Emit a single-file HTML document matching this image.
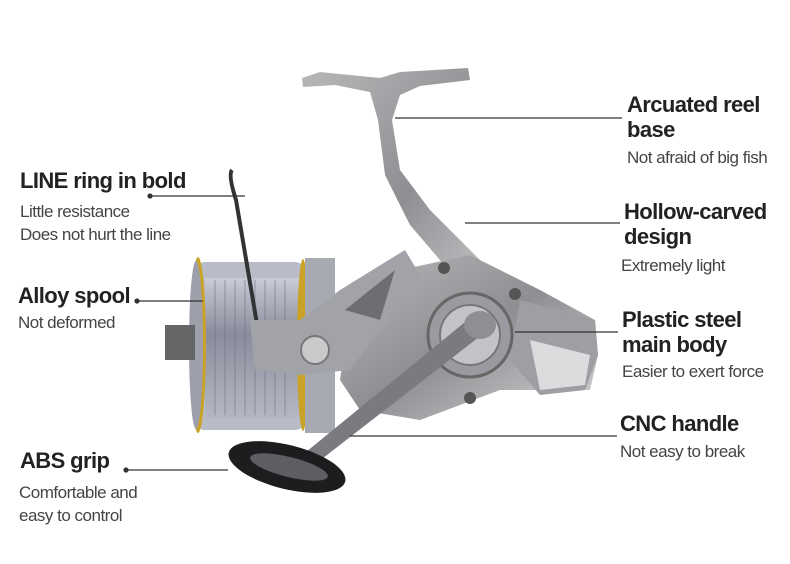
<!DOCTYPE html>
<html><head><meta charset="utf-8"><style>
html,body{margin:0;padding:0;background:#fff;}
#c{position:relative;width:790px;height:564px;overflow:hidden;font-family:"Liberation Sans",sans-serif;}
.t{position:absolute;color:#222;font-weight:bold;font-size:22px;letter-spacing:-0.6px;line-height:25px;white-space:nowrap;}
.d{position:absolute;color:#444;font-size:17px;letter-spacing:-0.5px;line-height:23px;white-space:nowrap;}
svg{position:absolute;left:0;top:0;}
</style></head><body><div id="c">
<svg width="790" height="564" viewBox="0 0 790 564">
<defs>
<linearGradient id="sp" x1="0" y1="0" x2="0" y2="1"><stop offset="0" stop-color="#c9ccd6"/><stop offset="0.4" stop-color="#8a8e9c"/><stop offset="1" stop-color="#b5b8c4"/></linearGradient>
<linearGradient id="bd" x1="0" y1="0" x2="1" y2="1"><stop offset="0" stop-color="#b8b8ba"/><stop offset="0.5" stop-color="#8e8f92"/><stop offset="1" stop-color="#d4d4d6"/></linearGradient>
</defs>
<rect x="195" y="262" width="110" height="168" rx="10" fill="#b9bcc7"/>
<rect x="205" y="278" width="95" height="140" fill="url(#sp)"/>
<g stroke="#6f7382" stroke-width="1" opacity="0.6">
<line x1="215" y1="280" x2="215" y2="415"/><line x1="225" y1="280" x2="225" y2="415"/><line x1="235" y1="280" x2="235" y2="415"/><line x1="245" y1="280" x2="245" y2="415"/><line x1="255" y1="280" x2="255" y2="415"/><line x1="265" y1="280" x2="265" y2="415"/><line x1="275" y1="280" x2="275" y2="415"/><line x1="285" y1="280" x2="285" y2="415"/></g>
<ellipse cx="198" cy="345" rx="8" ry="88" fill="#c9a227"/>
<ellipse cx="196" cy="345" rx="7" ry="84" fill="#9da0aa"/>
<ellipse cx="303" cy="345" rx="6" ry="86" fill="#c9a227"/>
<rect x="305" y="258" width="30" height="175" fill="#a8aab2"/>
<rect x="165" y="325" width="30" height="35" fill="#666"/>
<path d="M232 170 Q228 175 236 200 L258 330" stroke="#333" stroke-width="4" fill="none"/>
<path d="M302 78 L320 72 L380 78 L400 72 L468 68 L470 80 L420 86 L400 95 L392 120 L400 170 L430 210 L500 280 L520 300 L515 310 L470 290 L440 260 L410 225 L385 175 L378 120 L370 92 L335 85 L303 87 Z" fill="url(#bd)"/>
<path d="M400 270 L470 255 L540 290 L595 320 L598 355 L590 390 L500 390 L420 420 L360 410 L340 380 L350 310 Z" fill="url(#bd)"/>
<path d="M520 300 L595 320 L598 355 L585 390 L540 395 L510 360 Z" fill="#9e9fa3"/>
<path d="M530 340 L590 355 L585 385 L540 390 Z" fill="#dcdcde"/>
<path d="M250 320 L300 320 L340 290 L405 250 L420 275 L380 330 L350 370 L300 375 L255 370 Z" fill="#a2a3a8"/>
<path d="M345 310 L395 270 L380 320 Z" fill="#6d6e73"/>
<circle cx="315" cy="350" r="14" fill="#c9c9cc" stroke="#777" stroke-width="2"/>
<circle cx="470" cy="335" r="42" fill="#9a9ba0" stroke="#666" stroke-width="3"/>
<circle cx="470" cy="335" r="30" fill="#c2c3c7" stroke="#777" stroke-width="2"/>
<circle cx="444" cy="268" r="6" fill="#555"/><circle cx="515" cy="294" r="6" fill="#555"/><circle cx="470" cy="398" r="6" fill="#555"/>
<path d="M306 452 L470 318 L488 330 L318 462 Z" fill="#7a7b80"/>
<ellipse cx="480" cy="325" rx="16" ry="14" fill="#8e8f94"/>
<ellipse cx="287" cy="467" rx="60" ry="22" transform="rotate(14 287 467)" fill="#1d1d1f"/>
<ellipse cx="289" cy="467" rx="40" ry="10" transform="rotate(14 289 467)" fill="#5e5e62"/>
<g stroke="#333" stroke-width="1.2" fill="#333">
<line x1="395" y1="118" x2="622" y2="118"/>
<line x1="150" y1="196" x2="245" y2="196"/><circle cx="150" cy="196" r="2"/>
<line x1="137" y1="301" x2="203" y2="301"/><circle cx="137" cy="301" r="2"/>
<line x1="465" y1="223" x2="620" y2="223"/>
<line x1="515" y1="332" x2="618" y2="332"/>
<line x1="350" y1="436" x2="617" y2="436"/>
<line x1="126" y1="470" x2="228" y2="470"/><circle cx="126" cy="470" r="2"/>
</g>
</svg>
<div class="t" style="left:627px;top:92px">Arcuated reel<br>base</div>
<div class="d" style="left:627px;top:146px">Not afraid of big fish</div>
<div class="t" style="left:624px;top:199px">Hollow-carved<br>design</div>
<div class="d" style="left:621px;top:254px">Extremely light</div>
<div class="t" style="left:622px;top:307px">Plastic steel<br>main body</div>
<div class="d" style="left:622px;top:360px">Easier to exert force</div>
<div class="t" style="left:620px;top:411px">CNC handle</div>
<div class="d" style="left:620px;top:440px">Not easy to break</div>
<div class="t" style="left:20px;top:168px">LINE ring in bold</div>
<div class="d" style="left:20px;top:200px">Little resistance<br>Does not hurt the line</div>
<div class="t" style="left:18px;top:283px">Alloy spool</div>
<div class="d" style="left:18px;top:311px">Not deformed</div>
<div class="t" style="left:20px;top:448px">ABS grip</div>
<div class="d" style="left:19px;top:481px">Comfortable and<br>easy to control</div>
</div></body></html>
